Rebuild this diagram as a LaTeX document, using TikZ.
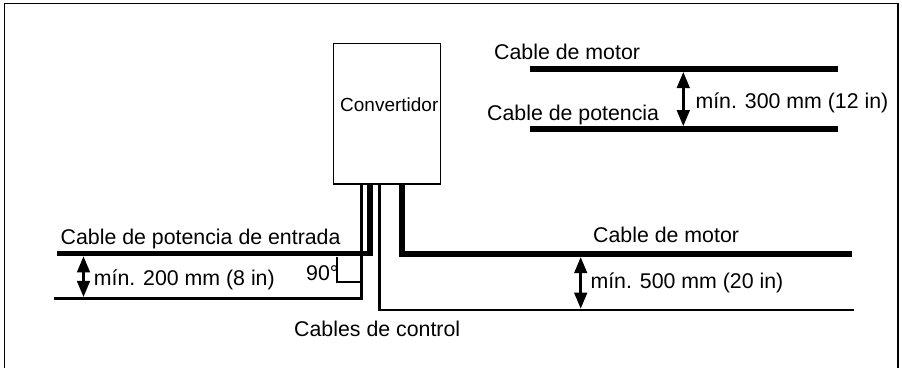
\documentclass[tikz,border=0pt]{standalone}
\usepackage{fontspec}
\setmainfont{Liberation Sans}
\usetikzlibrary{arrows.meta,positioning}

\begin{document}
\begin{tikzpicture}[
    x=0.03cm, y=-0.03cm,
    txt/.style={anchor=base west, inner sep=0pt, font=\fontsize{18.2}{21}\selectfont},
    convbox/.style={rectangle, draw=black, line width=1.3pt, minimum width=3.22cm, minimum height=4.22cm, inner sep=0pt},
    thickcable/.style={line width=4.7pt},
    thincable/.style={line width=2.1pt},
    anglemark/.style={line width=1.5pt},
    dimarrow/.style={{Triangle[length=14pt,width=10.5pt]}-{Triangle[length=14pt,width=10.5pt]}, line width=3pt}
]
\useasboundingbox (0,0) rectangle (902,368);

% Frame
\draw[line width=1.7pt] (4.5,3.5) rectangle (898,375);

% Converter
\node[convbox] (conv) at (387,113.7) {};
\node[txt, font=\fontsize{16.2}{19}\selectfont] (convtext) at (340,111.7) {Convertidor};

% Cable end points
\coordinate (inbend) at (370,253.5);
\coordinate (inend) at (57,253.5);
\coordinate (gndbend) at (361.5,298.5);
\coordinate (gndend) at (54,298.5);
\coordinate (ctrlbend) at (379.5,310);
\coordinate (ctrlend) at (854,310);
\coordinate (motbend) at (402,254);
\coordinate (motend) at (852,254);

% Cables from the converter
\draw[thickcable] (conv.south -| inbend) -- (inbend) -- (inend);
\draw[thincable] (conv.south -| gndbend) -- (gndbend) -- (gndend);
\draw[thincable] (conv.south -| ctrlbend) -- (ctrlbend) -- (ctrlend);
\draw[thickcable] (conv.south -| motbend) -- (motbend) -- (motend);

% 90 degree mark
\coordinate (angA) at (336.7,256.5);
\coordinate (angB) at (361.5,281.7);
\draw[anglemark] (angA) |- (angB);
\node[txt] (angtext) at (306,280) {90°};

% Cables upper right
\coordinate (motAL) at (530,69);
\coordinate (motAR) at (838,69);
\coordinate (powAL) at (530,129);
\coordinate (powAR) at (838,129);
\draw[thickcable] (motAL) -- (motAR);
\draw[thickcable] (powAL) -- (powAR);

% Distances
\coordinate (d300a) at (683.3,71.7);
\coordinate (d300b) at (683.3,126.5);
\coordinate (d200a) at (83.5,256);
\coordinate (d200b) at (83.5,297.3);
\coordinate (d500a) at (580.7,256.8);
\coordinate (d500b) at (580.7,309);
\draw[dimarrow] (d300a) -- (d300b);
\draw[dimarrow] (d200a) -- (d200b);
\draw[dimarrow] (d500a) -- (d500b);

% Labels
\node[txt] (lmotA) at (494,59.3) {Cable de motor};
\node[txt] (lpowA) at (487,120) {Cable de potencia};
\node[txt] (l300) at (695.3,108.3) {mín. 300 mm (12 in)};
\node[txt] (lin) at (60.5,244.5) {Cable de potencia de entrada};
\node[txt] (l200) at (93.6,285.6) {mín. 200 mm (8 in)};
\node[txt] (lmotB) at (593,242.7) {Cable de motor};
\node[txt] (l500) at (590.3,288.3) {mín. 500 mm (20 in)};
\node[txt] (lctrl) at (294,336.7) {Cables de control};

\end{tikzpicture}
\end{document}
